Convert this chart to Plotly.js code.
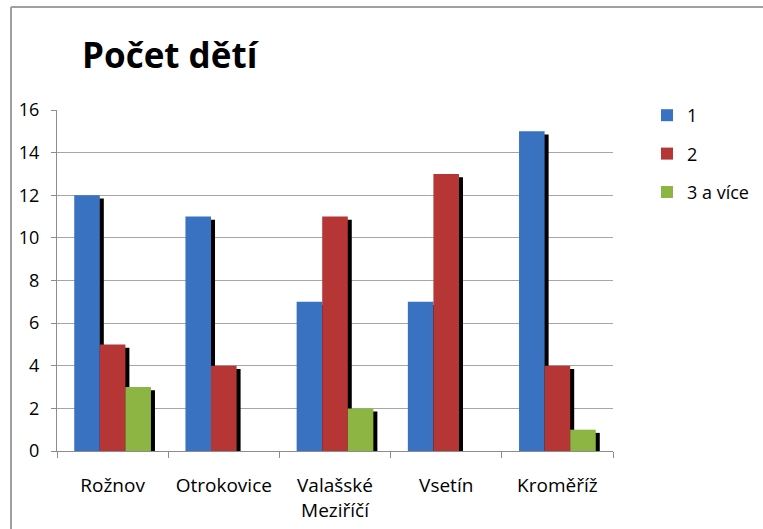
<!DOCTYPE html>
<html>
<head>
<meta charset="utf-8">
<script src="https://cdn.plot.ly/plotly-3.0.1.min.js"></script>
<style>html,body{margin:0;padding:0;background:#fff;}#chart{width:763px;height:529px;}</style>
</head>
<body>
<div id="chart"></div>
<script>
const categories = ["Rožnov", "Otrokovice", "Valašské<br>Meziříčí", "Vsetín", "Kroměříž"];
const seriesNames = ["1", "2", "3 a více"];
const series1 = [12, 11, 7, 7, 15];
const series2 = [5, 4, 11, 13, 4];
const series3 = [3, 0, 2, 0, 1];
const yTicks = [0, 2, 4, 6, 8, 10, 12, 14, 16];

const colors = ["#3872c0", "#b63635", "#8cb544"];
const allSeries = [series1, series2, series3];
const barW = 0.23;
const offsets = [-0.345, -0.115, 0.115];
const shadowDx = 0.036, shadowDy = 0.15;

const traces = [];
// shadows
allSeries.forEach((s, i) => {
  traces.push({
    type: "bar", x: categories, y: s.map(v => Math.max(0, v - shadowDy)),
    width: barW, offset: offsets[i] + shadowDx,
    marker: {color: "#000000", line: {width: 0}},
    showlegend: false, hoverinfo: "skip"
  });
});
allSeries.forEach((s, i) => {
  traces.push({
    type: "bar", x: categories, y: s, name: seriesNames[i],
    width: barW, offset: offsets[i],
    marker: {color: colors[i], line: {width: 0}},
    legendgroup: "g" + i
  });
});

const layout = {
  width: 763, height: 529,
  margin: {l: 57, r: 150, t: 110, b: 78},
  paper_bgcolor: "#ffffff", plot_bgcolor: "#ffffff",
  barmode: "overlay",
  font: {family: "'Open Sans', sans-serif", size: 18, color: "#000"},
  title: {
    text: "<b>Počet dětí</b>",
    font: {family: "'Open Sans', sans-serif", size: 35, color: "#000"},
    x: 82/763, xref: "container", xanchor: "left",
    y: 1 - 43/529, yref: "container", yanchor: "top"
  },
  xaxis: {
    type: "category", tickson: "boundaries", ticks: "outside", ticklen: 6,
    tickcolor: "#8c8c8c", showline: true, linecolor: "#8c8c8c", linewidth: 1,
    showgrid: false, ticklabelstandoff: 17, fixedrange: true,
    tickfont: {size: 19}
  },
  yaxis: {
    range: [0, 16], tickvals: yTicks, ticks: "outside", ticklen: 5,
    tickcolor: "#8c8c8c", showline: true, linecolor: "#8c8c8c", linewidth: 1,
    gridcolor: "#a6a6a6", gridwidth: 1, zeroline: false,
    ticklabelstandoff: 8, fixedrange: true, tickfont: {size: 18}
  },
  legend: {
    x: 647/763, xref: "container", xanchor: "left",
    y: 1 - 97/529, yref: "container", yanchor: "top",
    tracegroupgap: 12, font: {size: 18}, itemwidth: 30
  },
  shapes: [
    {type: "line", xref: "paper", yref: "paper", x0: (11-57)/556, x1: (770-57)/556, y0: (451-7)/341, y1: (451-7)/341, line: {color: "#a0a0a0", width: 2}},
    {type: "line", xref: "paper", yref: "paper", x0: (11-57)/556, x1: (11-57)/556, y0: (451-7)/341, y1: (451-540)/341, line: {color: "#a0a0a0", width: 2}}
  ]
};

Plotly.newPlot("chart", traces, layout, {displayModeBar: false, staticPlot: true});
</script>
</body>
</html>
